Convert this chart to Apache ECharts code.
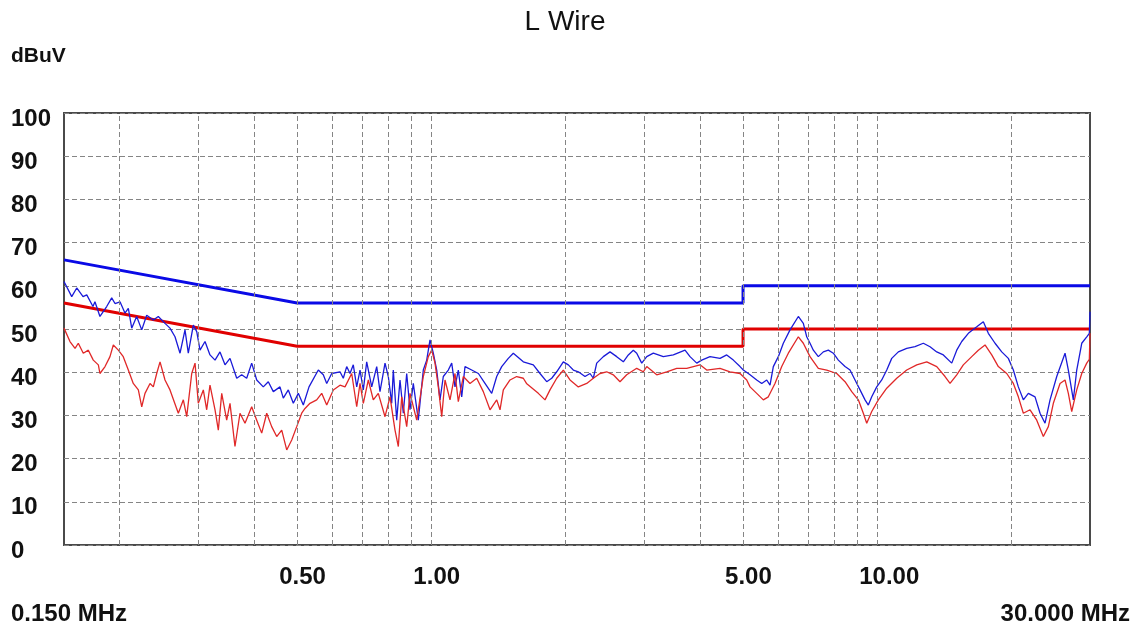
<!DOCTYPE html>
<html>
<head>
<meta charset="utf-8">
<script src="https://cdn.jsdelivr.net/npm/echarts@6/dist/echarts.min.js"></script>
<style>html,body{margin:0;padding:0;background:#fff;}#c{width:1136px;height:629px;}</style>
</head>
<body>
<div id="c"></div>
<script>
// ---- data (MHz, dBuV) ----
var blueFreq = [0.150,0.1508,0.1561,0.1602,0.1655,0.1687,0.1742,0.1760,0.1806,0.1870,0.1919,0.1952,0.2003,0.2055,0.2091,0.2128,0.2183,0.2241,0.2299,0.2379,0.2441,0.2527,0.2593,0.2661,0.2731,0.2802,0.2850,0.2925,0.2977,0.3028,0.3107,0.3188,0.3272,0.3357,0.3445,0.3535,0.3660,0.3755,0.3853,0.3954,0.4058,0.4198,0.4308,0.4421,0.4576,0.4655,0.4777,0.4902,0.5030,0.5162,0.5316,0.5577,0.5723,0.5825,0.5977,0.6239,0.6346,0.6458,0.6569,0.6682,0.6801,0.6918,0.7037,0.7161,0.7349,0.7541,0.7670,0.7871,0.8006,0.8148,0.8215,0.8361,0.8505,0.8651,0.8804,0.8955,0.9109,0.9348,0.9592,0.9762,0.9930,1.0101,1.0280,1.0456,1.0636,1.0914,1.1108,1.1298,1.1493,1.1696,1.1897,1.2316,1.2749,1.3191,1.3656,1.4013,1.4379,1.4878,1.5267,1.6076,1.6929,1.7524,1.8142,1.8617,1.9104,1.9766,2.0283,2.0814,2.1359,2.2110,2.2689,2.3079,2.3487,2.4302,2.5157,2.6043,2.6946,2.7651,2.8374,2.8877,2.9633,3.0408,3.1461,3.3129,3.4884,3.7058,3.8027,3.9366,4.0395,4.2164,4.4399,4.5962,4.7556,4.9230,5.0076,5.1839,5.3664,5.5068,5.6508,5.7479,5.8467,5.9997,6.1566,6.3734,6.6525,6.8265,6.9474,7.0668,7.1883,7.3763,7.5693,7.7673,7.9704,8.1789,8.4668,8.6883,8.9156,9.1488,9.3882,9.5496,9.7188,9.9730,10.234,10.502,10.776,11.150,11.644,12.154,12.687,13.133,13.596,14.067,14.691,15.075,15.469,16.005,16.715,17.295,17.747,18.372,19.019,19.678,20.193,20.721,21.263,21.819,22.587,23.178,23.784,24.407,25.266,26.372,26.826,27.527,28.015,28.748,29.50,29.90,30.0];
var blueVal = [61.0,61.3,57.5,59.5,57.5,57.9,55.2,56.3,52.9,55.2,57.2,55.9,56.3,53.7,54.8,50.2,52.9,49.8,53.2,52.1,52.9,51.3,50.2,48.2,44.4,49.8,44.4,50.9,49.4,45.1,47.1,44.0,42.8,44.7,41.7,43.2,38.6,39.4,38.6,42.1,38.2,36.6,37.8,35.5,36.6,34.0,35.9,32.8,35.1,32.4,36.6,40.5,39.4,37.4,39.7,40.1,38.6,41.3,39.7,41.7,36.6,40.5,35.9,42.4,36.6,41.3,35.5,42.1,39.0,32.8,40.5,28.9,38.2,30.5,39.7,31.3,37.4,28.9,40.5,42.8,47.5,44.4,40.5,33.6,39.0,40.5,42.1,36.6,40.5,34.3,41.3,40.5,39.7,37.4,35.1,39.0,41.3,43.2,44.4,42.4,41.7,39.7,37.8,38.6,40.1,42.4,41.7,40.5,40.1,39.0,39.7,38.6,42.1,43.6,44.7,43.6,42.4,44.0,45.1,44.4,42.1,43.6,44.4,43.6,44.0,45.1,43.6,42.1,42.8,43.6,43.2,44.0,42.8,41.3,40.5,39.4,38.2,37.4,38.2,37.0,41.3,43.6,46.7,49.8,52.9,51.3,48.2,46.7,45.1,43.6,44.7,45.1,44.4,42.8,41.3,40.5,38.2,35.9,33.6,32.4,34.3,36.6,38.2,40.5,43.2,44.7,45.5,45.9,46.7,45.9,44.7,44.0,42.1,45.1,47.1,49.0,50.5,51.7,49.0,46.7,44.7,43.2,40.5,36.6,33.6,35.1,34.3,30.5,28.2,33.6,39.0,44.4,40.5,33.6,40.5,46.7,48.2,49.0,54.0];

var redFreq = [0.150,0.1508,0.1547,0.1588,0.1615,0.1657,0.1701,0.1745,0.1791,0.1806,0.1854,0.1902,0.1935,0.1986,0.2037,0.2091,0.2145,0.2202,0.2241,0.2279,0.2339,0.2379,0.2421,0.2463,0.2527,0.2593,0.2707,0.2778,0.2827,0.2901,0.2951,0.3001,0.3080,0.3134,0.3188,0.3272,0.3328,0.3387,0.3475,0.3535,0.3627,0.3722,0.3820,0.3954,0.4058,0.4164,0.4273,0.4384,0.4499,0.4617,0.4738,0.4862,0.4989,0.5119,0.5207,0.5343,0.5531,0.5676,0.5825,0.6027,0.6239,0.6402,0.6627,0.6801,0.6918,0.7037,0.7221,0.7409,0.7603,0.7871,0.8077,0.8288,0.8431,0.8580,0.8804,0.8955,0.9271,0.9592,0.9843,1.0018,1.0190,1.0365,1.0549,1.0730,1.1010,1.1298,1.1493,1.1793,1.2208,1.2638,1.3076,1.3537,1.4013,1.4255,1.4500,1.5010,1.5538,1.6076,1.6342,1.7372,1.7983,1.8453,1.9104,1.9766,2.0462,2.1359,2.2305,2.3079,2.3889,2.4730,2.5587,2.6488,2.7420,2.8877,2.9879,3.0408,3.2019,3.3713,3.5502,3.7385,4.0041,4.1451,4.4399,4.6748,4.9230,5.0962,5.1839,5.3664,5.5524,5.6977,5.8971,6.1060,6.3177,6.6525,6.8265,7.0668,7.3763,7.7034,8.1117,8.4668,8.7650,9.0689,9.3060,9.4709,9.7188,10.056,10.502,11.058,11.644,12.262,12.912,13.596,14.191,14.562,15.075,15.595,16.288,16.853,17.447,18.061,18.687,19.516,20.193,20.721,21.263,22.011,22.787,23.576,24.193,24.825,25.699,26.372,26.826,27.300,28.015,28.748,29.50,29.90,30.0];
var redVal = [50.2,49.8,47.1,45.5,46.7,44.4,45.1,42.8,41.7,39.7,41.3,43.6,46.3,45.1,43.6,40.5,37.4,35.9,32.0,35.1,37.4,36.6,39.7,42.4,38.2,35.9,30.5,33.6,29.7,39.7,42.1,32.8,35.9,31.3,37.0,31.3,26.6,35.1,28.9,32.8,22.8,30.5,28.2,32.0,28.9,25.9,30.5,27.4,25.1,26.6,22.0,24.3,27.4,30.5,31.6,32.8,33.6,35.1,32.4,35.9,37.0,36.6,39.7,32.0,37.4,32.8,38.2,33.6,35.1,29.7,34.3,26.6,22.8,34.3,27.4,35.1,28.9,39.0,43.6,45.1,42.1,36.6,29.7,38.2,33.6,39.7,33.2,39.0,37.4,38.6,35.5,31.3,33.6,31.3,35.9,38.2,39.0,38.6,37.4,35.1,33.6,35.9,38.6,40.5,38.2,36.6,37.4,38.6,39.7,40.1,39.4,37.8,39.4,40.9,40.1,41.3,39.4,40.1,40.9,40.9,41.7,40.5,40.9,40.1,39.7,38.2,36.6,35.1,33.6,34.3,37.4,41.3,44.4,48.2,46.7,43.6,40.9,40.5,39.7,37.8,35.5,33.6,30.5,28.2,30.9,33.6,36.3,38.6,40.5,41.7,42.4,41.3,39.0,37.4,39.4,41.7,43.6,45.1,46.3,44.0,41.3,39.7,37.4,34.3,30.5,31.3,28.9,25.1,27.4,32.8,37.4,38.2,35.1,30.9,35.9,39.7,42.1,43.0,49.0];

// limit lines
var qpLimitFreq = [0.15,0.5,5,5,30];
var qpLimitVal  = [66,56,56,60,60];
var avLimitFreq = [0.15,0.5,5,5,30];
var avLimitVal  = [56,46,46,50,50];

// axis/grid
var gridFreqs = [0.2,0.3,0.4,0.5,0.6,0.7,0.8,0.9,1,2,3,4,5,6,7,8,9,10,20];
var xTickFreqs = [0.5,1,5,10];
var xTickLabels = ['0.50','1.00','5.00','10.00'];
var yTicks = [0,10,20,30,40,50,60,70,80,90,100];

function pairs(f,v){var o=[];for(var i=0;i<f.length;i++)o.push([f[i],v[i]]);return o;}

var FONT = '"Liberation Sans", Arial, sans-serif';
var chart = echarts.init(document.getElementById('c'), null, {renderer:'canvas'});
var option = {
  animation:false,
  backgroundColor:'#ffffff',
  grid:{left:64,right:46,top:113,bottom:84,show:true,borderColor:'#4a4a4a',borderWidth:2,backgroundColor:'transparent'},
  xAxis:{type:'log',logBase:10,min:0.15,max:30,
    axisLine:{show:false},axisTick:{show:false},axisLabel:{show:false},splitLine:{show:false},minorTick:{show:false}},
  yAxis:{type:'value',min:0,max:100,interval:10,
    axisLine:{show:false},axisTick:{show:false},
    axisLabel:{show:true,align:'left',margin:53,verticalAlign:'middle',
      formatter:function(v){return '{a|'+v+'}';},
      rich:{a:{fontFamily:FONT,fontSize:24,fontWeight:'bold',color:'#111',padding:[12,0,0,0],align:'left'}}},
    splitLine:{show:true,lineStyle:{color:'#858585',type:[5,3],width:1}}},
  series:[
    {type:'line',name:'QP limit',data:pairs(qpLimitFreq,qpLimitVal),showSymbol:false,symbol:'none',
      lineStyle:{color:'#0a0ae6',width:3},z:2,
      markLine:{silent:true,symbol:['none','none'],label:{show:false},
        lineStyle:{color:'#858585',type:[5,3],width:1},
        data:gridFreqs.map(function(f){return {xAxis:f};})}},
    {type:'line',name:'AV limit',data:pairs(avLimitFreq,avLimitVal),showSymbol:false,symbol:'none',
      lineStyle:{color:'#e00000',width:3},z:2},
    {type:'line',name:'Peak',data:pairs(blueFreq,blueVal),showSymbol:false,symbol:'none',
      lineStyle:{color:'#1a1ad8',width:1.3},z:3},
    {type:'line',name:'Average',data:pairs(redFreq,redVal),showSymbol:false,symbol:'none',
      lineStyle:{color:'#e02828',width:1.3},z:4}
  ],
  graphic:[
    {type:'text',id:'title',x:565,y:22,style:{text:'L Wire',font:'normal 28px '+FONT,fill:'#111',textAlign:'center',textVerticalAlign:'middle'}},
    {type:'text',id:'unit',x:11,y:56,style:{text:'dBuV',font:'bold 21px '+FONT,fill:'#111',textAlign:'left',textVerticalAlign:'middle'}},
    {type:'text',id:'fmin',x:11,y:614,style:{text:'0.150 MHz',font:'bold 24px '+FONT,fill:'#111',textAlign:'left',textVerticalAlign:'middle'}},
    {type:'text',id:'fmax',x:1130,y:614,style:{text:'30.000 MHz',font:'bold 24px '+FONT,fill:'#111',textAlign:'right',textVerticalAlign:'middle'}}
  ]
};
chart.setOption(option);
var g = [];
for (var i=0;i<xTickFreqs.length;i++){
  var px = chart.convertToPixel({xAxisIndex:0}, xTickFreqs[i]);
  g.push({type:'text',id:'xl'+i,x:px-18,y:577,style:{text:xTickLabels[i],font:'bold 24px '+FONT,fill:'#111',textAlign:'left',textVerticalAlign:'middle'}});
}
chart.setOption({graphic:g});
</script>
</body>
</html>
